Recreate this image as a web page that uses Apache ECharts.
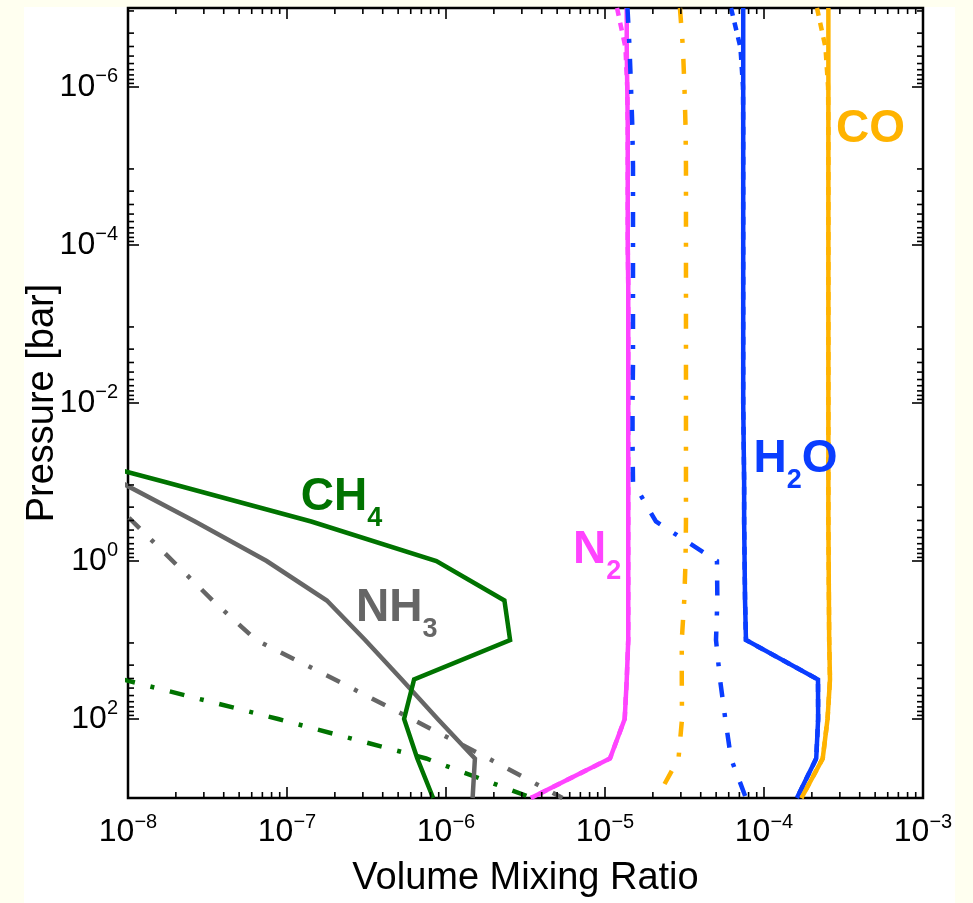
<!DOCTYPE html>
<html>
<head>
<meta charset="utf-8">
<title>Volume Mixing Ratio profiles</title>
<script src="https://cdn.jsdelivr.net/npm/echarts@6/dist/echarts.min.js"></script>
<style>
html, body { margin:0; padding:0; background:#fffff0; }
#chart { width:973px; height:903px; }
</style>
</head>
<body>
<div id="chart"></div>
<script>
// ---------------- data ----------------
// pressure levels [bar], shared by all profiles
const PRESSURE = [1e-7, 3.162e-7, 1e-6, 3.162e-6, 1e-5, 3.162e-5, 1e-4, 3.162e-4, 1e-3, 3.162e-3,
                  1e-2, 3.162e-2, 0.1, 0.3162, 1, 3.162, 10, 31.62, 100, 316.2, 1000];

const CH4_SOLID   = [null, null, null, null, null, null, null, null, null, null, null,
                     2.0e-9, 1.71e-8, 1.42e-7, 8.7e-7, 2.33e-6, 2.53e-6, 6.3e-7, 5.45e-7, 6.6e-7, 8.3e-7];
const CH4_DASHDOT = [null, null, null, null, null, null, null, null, null, null, null,
                     null, null, null, null, null, 1.05e-9, 9.3e-9, 8.8e-8, 7.5e-7, 3.5e-6];
const NH3_SOLID   = [null, null, null, null, null, null, null, null, null, null, null,
                     3.0e-9, 8.9e-9, 2.64e-8, 7.45e-8, 1.78e-7, 3.1e-7, 5.27e-7, 8.87e-7, 1.52e-6, 1.47e-6];
const NH3_DASHDOT = [null, null, null, null, null, null, null, null, null, null, null,
                     null, 6.0e-9, 1.07e-8, 1.91e-8, 3.41e-8, 6.38e-8, 2.0e-7, 6.1e-7, 1.85e-6, 5.4e-6];
const N2_SOLID    = [1.37e-5, 1.37e-5, 1.38e-5, 1.39e-5, 1.39e-5, 1.39e-5, 1.39e-5, 1.40e-5, 1.40e-5, 1.40e-5,
                     1.40e-5, 1.40e-5, 1.40e-5, 1.40e-5, 1.40e-5, 1.40e-5, 1.40e-5, 1.37e-5, 1.33e-5, 1.075e-5, 3.42e-6];
const N2_DASHED   = [1.19e-5, 1.345e-5, 1.38e-5, 1.39e-5, 1.39e-5, 1.39e-5, 1.39e-5, 1.40e-5, 1.40e-5, 1.40e-5,
                     1.40e-5, 1.40e-5, 1.40e-5, 1.40e-5, 1.40e-5, 1.40e-5, 1.40e-5, 1.37e-5, 1.33e-5, 1.075e-5, 3.42e-6];
const H2O_SOLID   = [7.4e-5, 7.4e-5, 7.4e-5, 7.4e-5, 7.4e-5, 7.4e-5, 7.4e-5, 7.4e-5, 7.4e-5, 7.4e-5,
                     7.4e-5, 7.45e-5, 7.5e-5, 7.5e-5, 7.55e-5, 7.6e-5, 7.7e-5, 2.186e-4, 2.19e-4, 2.13e-4, 1.61e-4];
const H2O_DASHED  = [6.2e-5, 7.11e-5, 7.38e-5, 7.4e-5, 7.4e-5, 7.4e-5, 7.4e-5, 7.4e-5, 7.4e-5, 7.4e-5,
                     7.4e-5, 7.45e-5, 7.5e-5, 7.5e-5, 7.55e-5, 7.6e-5, 7.7e-5, 2.186e-4, 2.19e-4, 2.13e-4, 1.61e-4];
const H2O_DASHDOT = [1.385e-5, 1.426e-5, 1.457e-5, 1.485e-5, 1.50e-5, 1.50e-5, 1.50e-5, 1.50e-5, 1.50e-5, 1.50e-5,
                     1.49e-5, 1.49e-5, 1.50e-5, 2.09e-5, 5.06e-5, 5.09e-5, 4.99e-5, 5.29e-5, 5.71e-5, 6.2e-5, 7.7e-5];
const CO_SOLID    = [2.54e-4, 2.54e-4, 2.54e-4, 2.54e-4, 2.54e-4, 2.54e-4, 2.54e-4, 2.54e-4, 2.54e-4, 2.54e-4,
                     2.54e-4, 2.54e-4, 2.54e-4, 2.54e-4, 2.55e-4, 2.56e-4, 2.57e-4, 2.6e-4, 2.51e-4, 2.34e-4, 1.72e-4];
const CO_DASHED   = [2.154e-4, 2.436e-4, 2.53e-4, 2.54e-4, 2.54e-4, 2.54e-4, 2.54e-4, 2.54e-4, 2.54e-4, 2.54e-4,
                     2.54e-4, 2.54e-4, 2.54e-4, 2.54e-4, 2.55e-4, 2.56e-4, 2.57e-4, 2.6e-4, 2.51e-4, 2.34e-4, 1.72e-4];
const CO_DASHDOT  = [2.96e-5, 3.09e-5, 3.16e-5, 3.21e-5, 3.23e-5, 3.23e-5, 3.23e-5, 3.23e-5, 3.23e-5, 3.23e-5,
                     3.23e-5, 3.23e-5, 3.23e-5, 3.23e-5, 3.21e-5, 3.15e-5, 3.04e-5, 3.04e-5, 3.05e-5, 2.9e-5, 2.12e-5];

// tick labels
const X_LABEL_VALUES = [1e-8, 1e-7, 1e-6, 1e-5, 1e-4, 1e-3];
const Y_LABEL_VALUES = [1e-6, 1e-4, 1e-2, 1, 100];

// in-plot species labels: text parts [text, isSubscript], anchor = [mixing ratio, pressure] of left baseline
const SPECIES_LABELS = [
  { parts: [['CH', 0], ['4', 1]],          color: '#007300', at: [1.22e-7, 0.229] },
  { parts: [['NH', 0], ['3', 1]],          color: '#666666', at: [2.72e-7, 5.77] },
  { parts: [['N', 0], ['2', 1]],           color: '#ff44ff', at: [6.29e-6, 1.05] },
  { parts: [['H', 0], ['2', 1], ['O', 0]], color: '#0a3dff', at: [8.59e-5, 0.075] },
  { parts: [['CO', 0]],                    color: '#ffb300', at: [2.84e-4, 4.92e-6] }
];

// ---------------- styling ----------------
const GREEN = '#007300', GRAY = '#666666', MAGENTA = '#ff44ff', BLUE = '#0a3dff', ORANGE = '#ffb300';
const FONT = '"Liberation Sans", Arial, Helvetica, sans-serif';
const DASHDOT = [15, 16, 4, 16];
const DASHED = [8, 7];
const LW = 4.5;

function pairs(vals) {
  const out = [];
  vals.forEach((v, i) => { if (v != null) out.push([v, PRESSURE[i]]); });
  return out;
}
function profile(name, vals, color, type, z) {
  return {
    name, type: 'line', data: pairs(vals), symbol: 'none', showSymbol: false,
    clip: true, z, silent: true, animation: false,
    lineStyle: { color, width: LW, type, cap: 'butt', join: 'miter' }
  };
}

// axis tick marks (drawn on all four sides)
const TICKS = [];
for (let k = -8; k <= -3; k++) TICKS.push([Math.pow(10, k), 1, 0, 11]);
for (let k = -8; k <= -4; k++) for (let m = 2; m <= 9; m++) TICKS.push([m * Math.pow(10, k), 1, 0, 6]);
Y_LABEL_VALUES.forEach(v => TICKS.push([1e-5, v, 1, 11]));
[-6, -4, -2, 0, 2].forEach(n => {
  const base = Math.pow(10, n - 2);
  for (let k = 1; k <= 9; k++) {
    const v = base * (1 + 9.9 * k);
    if (v >= 1e-7 && v <= 1e3) TICKS.push([1e-5, v, 1, 6]);
  }
});

function expText(e) { return (e < 0 ? '\u2212' : '') + Math.abs(e); }
const RICH = {
  b: { fontSize: 32, fontFamily: FONT, color: '#000', lineHeight: 34 },
  e: { fontSize: 20, fontFamily: FONT, color: '#000', padding: [0, 0, 21, 0] }
};

const chart = echarts.init(document.getElementById('chart'), null, { renderer: 'canvas' });
chart.setOption({
  animation: false,
  backgroundColor: '#fffff0',
  grid: { left: 128, right: 50, top: 8, bottom: 103, show: true, borderColor: '#000', borderWidth: 2.5, backgroundColor: 'transparent' },
  xAxis: {
    type: 'log', logBase: 10, min: 1e-8, max: 1e-3,
    axisLine: { show: false }, axisTick: { show: false }, splitLine: { show: false },
    axisLabel: {
      show: true, interval: 0, margin: 14, customValues: X_LABEL_VALUES,
      formatter: v => '{b|10}{e|' + expText(Math.round(Math.log10(v))) + '}', rich: RICH
    },
    name: 'Volume Mixing Ratio', nameLocation: 'middle', nameGap: 62, nameMoveOverlap: false,
    nameTextStyle: { fontSize: 38, fontFamily: FONT, color: '#000' }
  },
  yAxis: {
    type: 'log', logBase: 10, min: 1e-7, max: 1e3, inverse: true,
    axisLine: { show: false }, axisTick: { show: false }, splitLine: { show: false },
    axisLabel: {
      show: true, interval: 0, margin: 10, customValues: Y_LABEL_VALUES,
      formatter: v => { const e = Math.round(Math.log10(v)); return (e % 2 === 0) ? '{b|10}{e|' + expText(e) + '}' : ''; },
      rich: RICH
    },
    name: 'Pressure [bar]', nameLocation: 'middle', nameGap: 66, nameMoveOverlap: false,
    nameTextStyle: { fontSize: 38, fontFamily: FONT, color: '#000' }
  },
  series: [
    profile('NH3 dash-dot', NH3_DASHDOT, GRAY, DASHDOT, 2),
    profile('CH4 dash-dot', CH4_DASHDOT, GREEN, DASHDOT, 2),
    profile('NH3', NH3_SOLID, GRAY, 'solid', 3),
    profile('CH4', CH4_SOLID, GREEN, 'solid', 3),
    profile('N2 dashed', N2_DASHED, MAGENTA, DASHED, 2),
    profile('N2', N2_SOLID, MAGENTA, 'solid', 3),
    profile('CO dash-dot', CO_DASHDOT, ORANGE, DASHDOT, 3),
    profile('H2O dash-dot', H2O_DASHDOT, BLUE, DASHDOT, 3),
    profile('H2O dashed', H2O_DASHED, BLUE, DASHED, 2),
    profile('H2O', H2O_SOLID, BLUE, 'solid', 3),
    profile('CO dashed', CO_DASHED, ORANGE, DASHED, 2),
    profile('CO', CO_SOLID, ORANGE, 'solid', 4),
    {
      name: 'ticks', type: 'custom', data: TICKS, encode: { x: 0, y: 1 }, z: 6, silent: true, animation: false,
      renderItem: (params, api) => {
        const cs = params.coordSys;
        const kind = api.value(2), len = api.value(3);
        const st = { stroke: '#000', lineWidth: 1.6 };
        if (kind === 0) {
          const px = api.coord([api.value(0), 1])[0];
          const yb = cs.y + cs.height, yt = cs.y;
          return { type: 'group', children: [
            { type: 'line', shape: { x1: px, y1: yb, x2: px, y2: yb - len }, style: st },
            { type: 'line', shape: { x1: px, y1: yt, x2: px, y2: yt + len }, style: st }
          ] };
        }
        const py = api.coord([1e-5, api.value(1)])[1];
        const xl = cs.x, xr = cs.x + cs.width;
        return { type: 'group', children: [
          { type: 'line', shape: { x1: xl, y1: py, x2: xl + len, y2: py }, style: st },
          { type: 'line', shape: { x1: xr, y1: py, x2: xr - len, y2: py }, style: st }
        ] };
      }
    }
  ]
});

// white plotting page and species labels
const ctx = document.createElement('canvas').getContext('2d');
const gfx = [{ type: 'rect', shape: { x: 24, y: 7, width: 931, height: 896 }, style: { fill: '#ffffff' }, z: -100, silent: true }];
SPECIES_LABELS.forEach(L => {
  const p = chart.convertToPixel({ gridIndex: 0 }, L.at);
  let x = p[0];
  L.parts.forEach(([t, sub]) => {
    const size = sub ? 27 : 46;
    const font = 'bold ' + size + 'px ' + FONT;
    ctx.font = font;
    const w = ctx.measureText(t).width;
    const baseline = p[1] + (sub ? 16 : 0);
    gfx.push({
      type: 'text', x: x, y: baseline - 0.276 * size, z: 10, silent: true,
      style: { text: t, font: font, fill: L.color, align: 'left', verticalAlign: 'middle', textAlign: 'left', textVerticalAlign: 'middle' }
    });
    x += w;
  });
});
chart.setOption({ graphic: gfx });
</script>
</body>
</html>
